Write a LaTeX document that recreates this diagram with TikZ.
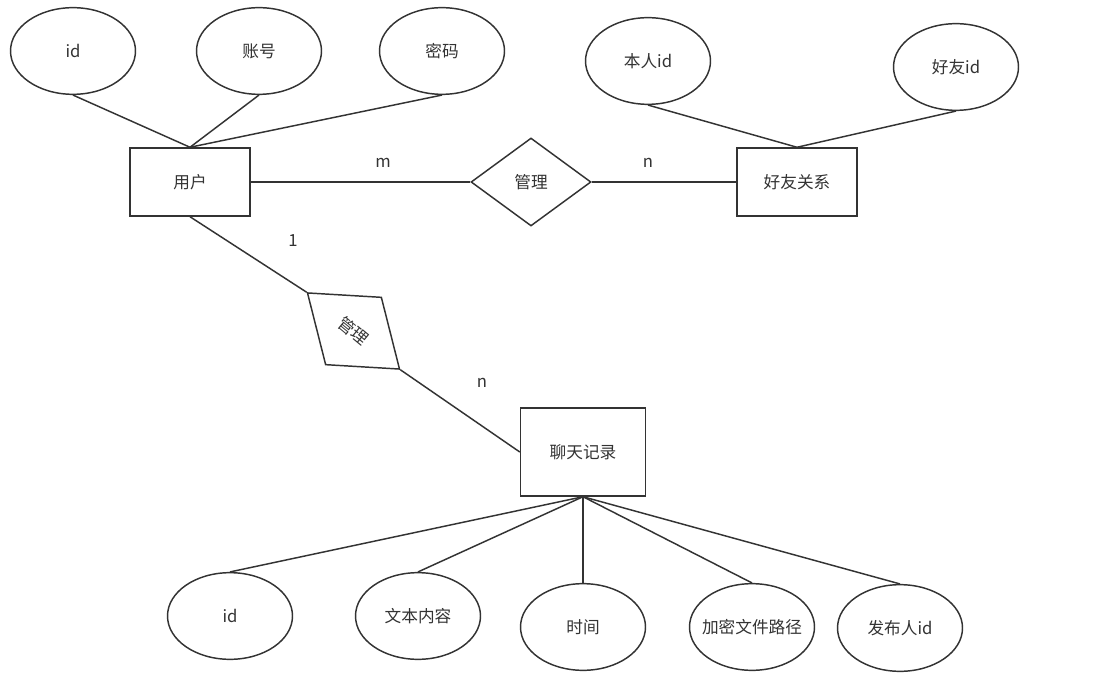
\documentclass[tikz,border=0pt]{standalone}
\usepackage{fontspec}
\setmainfont{Noto Sans CJK SC}
\usetikzlibrary{shapes.geometric}
\definecolor{ln}{HTML}{333333}
\definecolor{tx}{HTML}{333333}
\begin{document}
\begin{tikzpicture}[x=0.75pt,y=-0.75pt,
  every node/.style={text=tx,font=\fontsize{12.5}{14}\selectfont},
  attr/.style={ellipse,draw=ln,line width=1.1pt,minimum width=93.75pt,minimum height=65pt,inner sep=0pt},
  ent/.style={rectangle,draw=ln,line width=1.1pt,minimum width=90pt,minimum height=51pt,inner sep=0pt},
  rel/.style={diamond,draw=ln,line width=1.1pt,minimum width=90pt,minimum height=66pt,inner sep=0pt},
  conn/.style={draw=ln,line width=1.1pt},
  lbl/.style={inner sep=0pt}]
\useasboundingbox[fill=white] (0,0) rectangle (1117,691);
% entities
\node[ent] (user) at (190,182) {用户};
\node[ent] (friend) at (797,182) {好友关系};
\node[ent,minimum width=93.75pt,minimum height=66pt] (chat) at (583,452) {聊天记录};
% relations
\node[rel] (mg1) at (531,182) {管理};
\node[rel,rotate=-39.6] (mg2) at (353.5,331) {管理};
% user attributes
\node[attr] (uid) at (73,51) {id};
\node[attr] (uacc) at (259,51) {账号};
\node[attr] (upwd) at (442,51) {密码};
% friend attributes
\node[attr] (fself) at (648,61) {本人id};
\node[attr] (fid) at (956,67) {好友id};
% chat attributes
\node[attr] (cid) at (230,616) {id};
\node[attr] (ctext) at (418,616) {文本内容};
\node[attr] (ctime) at (583,627) {时间};
\node[attr] (cfile) at (752,627) {\makebox[50pt]{加密文件路径}};
\node[attr] (cpub) at (900,628) {发布人id};
% connectors
\draw[conn] (uid.south) -- (user.north);
\draw[conn] (uacc.south) -- (user.north);
\draw[conn] (upwd.south) -- (user.north);
\draw[conn] (fself.south) -- (friend.north);
\draw[conn] (fid.south) -- (friend.north);
\draw[conn] (user.east) -- (mg1.west);
\draw[conn] (mg1.east) -- (friend.west);
\draw[conn] (user.south) -- (mg2.west);
\draw[conn] (mg2.east) -- (chat.west);
\draw[conn] (chat.south) -- (cid.north);
\draw[conn] (chat.south) -- (ctext.north);
\draw[conn] (chat.south) -- (ctime.north);
\draw[conn] (chat.south) -- (cfile.north);
\draw[conn] (chat.south) -- (cpub.north);
% labels
\node[lbl] (lm) at (383,163) {m};
\node[lbl] (ln1) at (648,163) {n};
\node[lbl] (l1) at (293,241) {1};
\node[lbl] (ln2) at (482,383) {n};
\end{tikzpicture}
\end{document}
